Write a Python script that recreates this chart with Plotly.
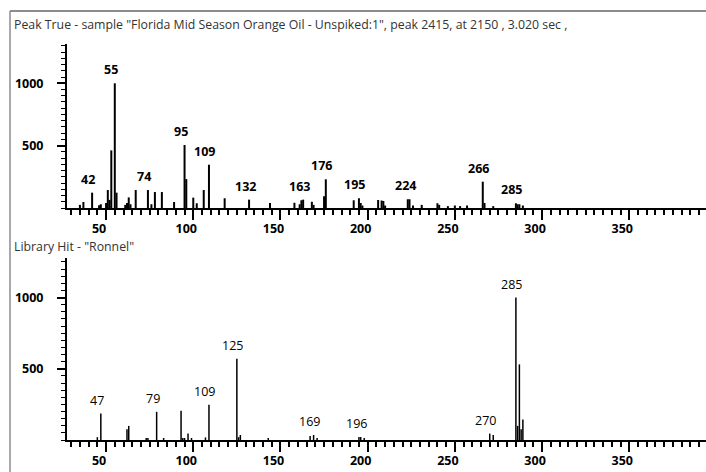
import plotly.graph_objects as go

# ---------------- data ----------------
top_mz = [35, 37, 42, 46, 47, 50, 51, 52, 53, 55, 56, 61, 62, 63, 64, 67, 74, 76, 78, 82,
          89, 95, 96, 100, 102, 106, 109, 118, 132, 144, 158, 161, 162, 163, 168, 169,
          175, 176, 192, 195, 196, 197, 206, 208, 209, 210, 223, 224, 226, 231, 240, 241,
          246, 250, 253, 257, 266, 267, 272, 285, 286, 287, 289]
top_int = [25, 48, 123, 22, 30, 40, 144, 65, 462, 1000, 123, 25, 40, 85, 30, 144, 144, 30, 128, 128,
           48, 505, 232, 83, 38, 144, 347, 78, 67, 40, 42, 30, 62, 67, 50, 25,
           94, 230, 62, 78, 40, 20, 64, 60, 56, 20, 70, 70, 20, 25, 38, 25,
           15, 20, 15, 20, 211, 40, 15, 38, 30, 30, 20]
top_labels = [42, 55, 74, 95, 109, 132, 163, 176, 195, 224, 266, 285]

bot_mz = [45, 47, 62, 63, 73, 74, 79, 83, 93, 94, 95, 97, 99, 107, 109, 125, 126, 127,
          143, 167, 169, 171, 195, 196, 198, 270, 272, 285, 286, 287, 288, 289]
bot_int = [20, 186, 76, 99, 14, 14, 198, 14, 205, 14, 14, 45, 14, 18, 248, 571, 20, 35,
           14, 28, 35, 14, 21, 21, 14, 45, 35, 1000, 99, 531, 76, 144]
bot_labels = [47, 79, 109, 125, 169, 196, 270, 285]

x_ticks = [50, 100, 150, 200, 250, 300, 350]
y_ticks = [500, 1000]

top_title = 'Peak True - sample "Florida Mid Season Orange Oil - Unspiked:1", peak 2415, at 2150 , 3.020 sec ,'
bot_title = 'Library Hit - "Ronnel"'

FONT = "Open Sans"


def stems(mz, inten):
    xs, ys = [], []
    for m, i in zip(mz, inten):
        xs += [m, m, None]
        ys += [0, i, None]
    return xs, ys


fig = go.Figure()
tx, ty = stems(top_mz, top_int)
bx, by = stems(bot_mz, bot_int)
fig.add_trace(go.Scatter(x=tx, y=ty, mode="lines", line=dict(color="black", width=2),
                         xaxis="x2", yaxis="y2", hoverinfo="skip", showlegend=False))
fig.add_trace(go.Scatter(x=bx, y=by, mode="lines", line=dict(color="black", width=1.5),
                         xaxis="x", yaxis="y", hoverinfo="skip", showlegend=False))

W, H = 706, 472
L, R, T, B = 67, 0, 44, 32
pw, ph = W - L - R, H - T - B


def px2x(px):
    return (px - L) / pw


def py2y(py):
    return (H - B - py) / ph


xcommon = dict(range=[27.6, 394], showline=True, linewidth=2, linecolor="black",
               ticks="outside", ticklen=10, tickwidth=2, tickcolor="black",
               tickvals=x_ticks, ticklabelshift=-7, ticklabelstandoff=-2,
               tickfont=dict(family=FONT, size=12.5, color="black", weight="bold"),
               minor=dict(tick0=0, dtick=5, ticks="outside", ticklen=5, tickwidth=1.5,
                          tickcolor="black"),
               showgrid=False, zeroline=False, fixedrange=True)
ycommon = dict(showline=True, linewidth=2, linecolor="black",
               ticks="outside", ticklen=8, tickwidth=2, tickcolor="black",
               tickvals=y_ticks, ticklabelstandoff=11,
               tickfont=dict(family=FONT, size=12.5, color="black", weight="bold"),
               minor=dict(tick0=0, dtick=50, ticks="outside", ticklen=4, tickwidth=1,
                          tickcolor="black"),
               showgrid=False, zeroline=False, fixedrange=True)

fig.update_layout(
    width=W, height=H,
    margin=dict(l=L, r=R, t=T, b=B),
    paper_bgcolor="white", plot_bgcolor="white",
    xaxis=dict(anchor="y", domain=[0, 1], **xcommon),
    yaxis=dict(anchor="x", domain=[0, py2y(258)], range=[0, 1278], **ycommon),
    xaxis2=dict(anchor="y2", domain=[0, 1], **xcommon),
    yaxis2=dict(anchor="x2", domain=[py2y(208), 1], range=[0, 1315], **ycommon),
)

ann = []
for m in top_labels:
    i = top_int[top_mz.index(m)]
    ann.append(dict(x=m, y=i, xref="x2", yref="y2", text=str(m), showarrow=False,
                    xanchor="center", yanchor="bottom", xshift=-4, yshift=3,
                    font=dict(family=FONT, size=12.5, color="black", weight="bold")))
for m in bot_labels:
    i = bot_int[bot_mz.index(m)]
    ann.append(dict(x=m, y=i, xref="x", yref="y", text=str(m), showarrow=False,
                    xanchor="center", yanchor="bottom", xshift=-4, yshift=3,
                    font=dict(family=FONT, size=12.5, color="black")))
ann.append(dict(x=px2x(12), y=py2y(25), xref="paper", yref="paper", text=top_title,
                showarrow=False, xanchor="left", yanchor="middle",
                font=dict(family=FONT, size=12.3, color="#333333")))
ann.append(dict(x=px2x(12), y=py2y(246), xref="paper", yref="paper", text=bot_title,
                showarrow=False, xanchor="left", yanchor="middle",
                font=dict(family=FONT, size=12.3, color="#333333")))
fig.update_layout(annotations=ann)

fig.update_layout(shapes=[
    dict(type="line", xref="paper", yref="paper", x0=px2x(10), x1=px2x(710),
         y0=py2y(11), y1=py2y(11), line=dict(color="#8c8c8c", width=2)),
    dict(type="line", xref="paper", yref="paper", x0=px2x(10), x1=px2x(10),
         y0=py2y(11), y1=py2y(480), line=dict(color="#8c8c8c", width=1.5)),
])

fig.write_html("out.html")
